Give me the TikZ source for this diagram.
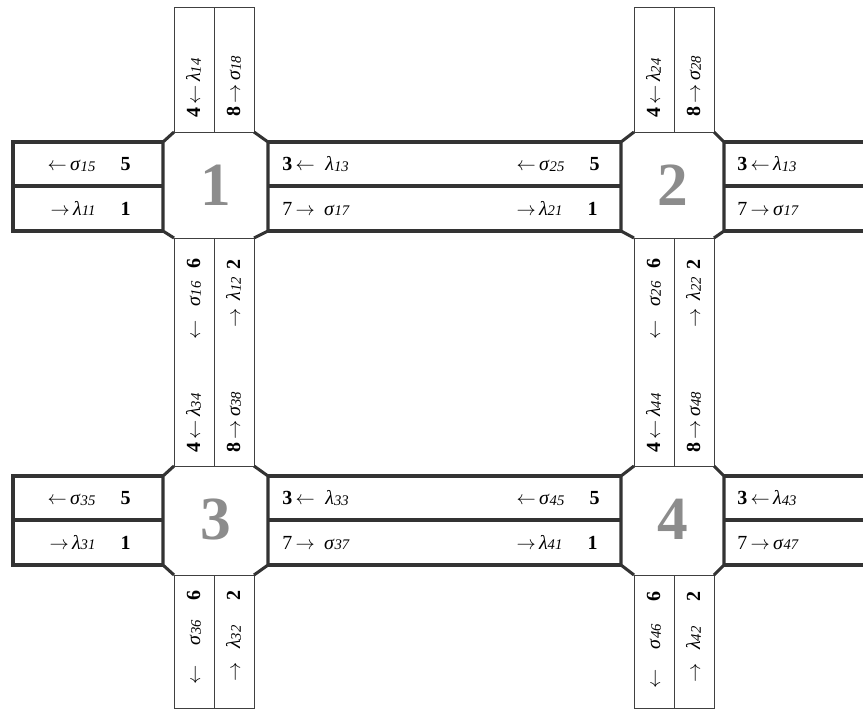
\documentclass[tikz,border=0pt]{standalone}
\usepackage{fontspec}
\setmainfont{Liberation Serif}
\newcommand\gsb[2]{\textit{#1}\raisebox{-0.6pt}{\fontsize{11}{12}\selectfont\textit{#2}}}
\newcommand\lar{$\leftarrow$}
\newcommand\rar{$\rightarrow$}
\begin{document}
\begin{tikzpicture}[x=0.75pt,y=-0.75pt,
  thickroad/.style={line width=2.3pt, draw=black!80, line join=miter},
  thinroad/.style={line width=0.6pt, draw=black!75},
  lbl/.style={inner sep=0pt, font=\fontsize{15}{17}\selectfont},
  vlbl/.style={lbl, rotate=90},
  bignum/.style={inner sep=0pt, font=\fontsize{46}{50}\selectfont\bfseries, text=black!45}]
\useasboundingbox (0,0) rectangle (863,711);

% vertical roads (thin)
\foreach \vl/\vm/\vr in {174/214/254, 634/674/714} {
  \draw[thinroad] (\vl,132) -- (\vl,7) -- (\vr,7) -- (\vr,132);
  \draw[thinroad] (\vm,7) -- (\vm,132);
  \draw[thinroad] (\vl,238) -- (\vl,466);
  \draw[thinroad] (\vm,238) -- (\vm,466);
  \draw[thinroad] (\vr,238) -- (\vr,466);
  \draw[thinroad] (\vl,575) -- (\vl,708) -- (\vr,708) -- (\vr,575);
  \draw[thinroad] (\vm,575) -- (\vm,708);
}

% horizontal roads (thick)
\foreach \ht/\hm/\hb in {142/186/231, 476/520/565} {
  \draw[thickroad] (163,\ht) -- (13,\ht) -- (13,\hb) -- (163,\hb);
  \draw[thickroad] (13,\hm) -- (163,\hm);
  \draw[thickroad] (268,\ht) -- (621,\ht);
  \draw[thickroad] (268,\hm) -- (621,\hm);
  \draw[thickroad] (268,\hb) -- (621,\hb);
  \draw[thickroad] (724,\ht) -- (863,\ht);
  \draw[thickroad] (724,\hm) -- (863,\hm);
  \draw[thickroad] (724,\hb) -- (863,\hb);
}

% intersections (octagons)
\foreach \xl/\xr/\vl/\vr in {163/268/174/254, 621/724/634/714} {
  \foreach \yt/\yb/\ht/\hb in {132/238/142/231, 466/575/476/565} {
    \draw[thickroad] (\vl,\yt) -- (\xl,\ht) -- (\xl,\hb) -- (\vl,\yb);
    \draw[thickroad] (\vr,\yt) -- (\xr,\ht) -- (\xr,\hb) -- (\vr,\yb);
    \draw[thinroad] (\vl,\yt) -- (\vr,\yt);
    \draw[thinroad] (\vl,\yb) -- (\vr,\yb);
  }
}

\node[bignum] (n1) at (215.5,185) {1};
\node[bignum] (n2) at (672.5,185) {2};
\node[bignum] (n3) at (215.5,519) {3};
\node[bignum] (n4) at (672.5,519) {4};

% ---- row 1 horizontal labels
\node[lbl, anchor=base east] (a15) at (131,170.5) {\lar\,\gsb{σ}{15}\hspace{19pt}\textbf{5}};
\node[lbl, anchor=base east] (a11) at (131,215) {\rar\,\gsb{λ}{11}\hspace{19pt}\textbf{1}};
\node[lbl, anchor=base west] (a13) at (282,170.5) {\textbf{3}\,\lar\hspace{8pt}\gsb{λ}{13}};
\node[lbl, anchor=base west] (a17) at (282,215) {7\,\rar\hspace{7pt}\gsb{σ}{17}};
\node[lbl, anchor=base east] (a25) at (600,170.5) {\lar\,\gsb{σ}{25}\hspace{19pt}\textbf{5}};
\node[lbl, anchor=base east] (a21) at (598,215) {\rar\,\gsb{λ}{21}\hspace{19pt}\textbf{1}};
\node[lbl, anchor=base west] (b13) at (737,170.5) {\textbf{3}\,\lar\,\gsb{λ}{13}};
\node[lbl, anchor=base west] (b17) at (737,215) {7\,\rar\,\gsb{σ}{17}};

% ---- row 2 horizontal labels
\node[lbl, anchor=base east] (a35) at (131,504.5) {\lar\,\gsb{σ}{35}\hspace{19pt}\textbf{5}};
\node[lbl, anchor=base east] (a31) at (131,549) {\rar\,\gsb{λ}{31}\hspace{19pt}\textbf{1}};
\node[lbl, anchor=base west] (a33) at (282,504.5) {\textbf{3}\,\lar\hspace{8pt}\gsb{λ}{33}};
\node[lbl, anchor=base west] (a37) at (282,549) {7\,\rar\hspace{7pt}\gsb{σ}{37}};
\node[lbl, anchor=base east] (a45) at (600,504.5) {\lar\,\gsb{σ}{45}\hspace{19pt}\textbf{5}};
\node[lbl, anchor=base east] (a41) at (598,549) {\rar\,\gsb{λ}{41}\hspace{19pt}\textbf{1}};
\node[lbl, anchor=base west] (b43) at (737,504.5) {\textbf{3}\,\lar\,\gsb{λ}{43}};
\node[lbl, anchor=base west] (b47) at (737,549) {7\,\rar\,\gsb{σ}{47}};

% ---- column A vertical labels
\node[vlbl, anchor=base west] (v14) at (200,118) {\textbf{4}\,\lar\,\gsb{λ}{14}};
\node[vlbl, anchor=base west] (v18) at (240,117) {\textbf{8}\,\rar\,\gsb{σ}{18}};
\node[vlbl, anchor=base west] (v34) at (200,453) {\textbf{4}\,\lar\,\gsb{λ}{34}};
\node[vlbl, anchor=base west] (v38) at (240,453) {\textbf{8}\,\rar\,\gsb{σ}{38}};
\node[vlbl, anchor=base east] (v16) at (200,258) {\lar\hspace{10pt}\gsb{σ}{16}\hspace{10pt}\textbf{6}};
\node[vlbl, anchor=base east] (v12) at (240,259) {\rar\hspace{6pt}\gsb{λ}{12}\hspace{6pt}\textbf{2}};
\node[vlbl, anchor=base east] (v36) at (200,590) {\lar\hspace{15pt}\gsb{σ}{36}\hspace{15pt}\textbf{6}};
\node[vlbl, anchor=base east] (v32) at (240,590) {\rar\hspace{10pt}\gsb{λ}{32}\hspace{19pt}\textbf{2}};

% ---- column B vertical labels
\node[vlbl, anchor=base west] (v24) at (660,118) {\textbf{4}\,\lar\,\gsb{λ}{24}};
\node[vlbl, anchor=base west] (v28) at (700,117) {\textbf{8}\,\rar\,\gsb{σ}{28}};
\node[vlbl, anchor=base west] (v44) at (660,453) {\textbf{4}\,\lar\,\gsb{λ}{44}};
\node[vlbl, anchor=base west] (v48) at (700,453) {\textbf{8}\,\rar\,\gsb{σ}{48}};
\node[vlbl, anchor=base east] (v26) at (660,258) {\lar\hspace{10pt}\gsb{σ}{26}\hspace{10pt}\textbf{6}};
\node[vlbl, anchor=base east] (v22) at (700,259) {\rar\hspace{6pt}\gsb{λ}{22}\hspace{6pt}\textbf{2}};
\node[vlbl, anchor=base east] (v46) at (660,591) {\lar\hspace{15pt}\gsb{σ}{46}\hspace{17pt}\textbf{6}};
\node[vlbl, anchor=base east] (v42) at (700,591) {\rar\hspace{10pt}\gsb{λ}{42}\hspace{19pt}\textbf{2}};
\end{tikzpicture}
\end{document}
